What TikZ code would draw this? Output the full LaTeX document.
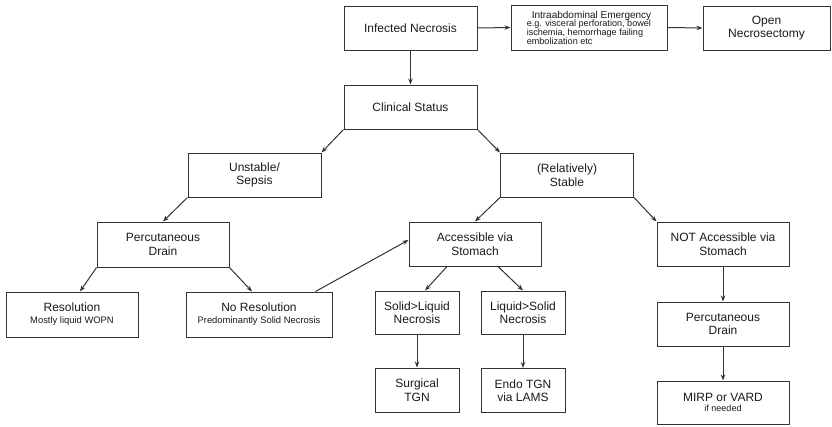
\documentclass[tikz,border=0pt]{standalone}
\usepackage{fontspec}
\setmainfont{Liberation Sans}
\usetikzlibrary{arrows.meta}
\newcommand\smtxt[1]{{\fontsize{9.4}{10}\selectfont #1}}
\begin{document}
\begin{tikzpicture}[x=1pt,y=-1pt,
 box/.style={draw=black!80, line width=1pt, align=center, font=\fontsize{12}{13.5}\selectfont, inner sep=2pt, text=black!90},
 wide/.style={minimum width=133pt, minimum height=44pt},
 narrow/.style={minimum width=84pt, minimum height=43pt},
 arr/.style={draw=black!80, line width=1pt, -{Stealth[length=6pt,width=4.5pt]}}]
\useasboundingbox (0,0) rectangle (832,426);
% row 1
\node[box, wide] (inf) at (410.5,28) {Infected Necrosis};
\node[box, minimum width=156pt, minimum height=45pt, inner sep=1pt, align=left, font=\fontsize{9.1}{8.7}\selectfont] (emerg) at (589,27.5)
 {{\fontsize{10}{11}\selectfont\hspace*{5pt}Intraabdominal Emergency}\\[0pt]
  e.g. visceral perforation, bowel\\ ischemia, hemorrhage failing\\ embolization etc};
\node[box, minimum width=127pt, minimum height=44pt] (open) at (766.5,28) {Open\\Necrosectomy};
% row 2
\node[box, wide] (clin) at (410.5,107) {Clinical Status};
% row 3
\node[box, wide] (unst) at (254.5,175) {Unstable/\\Sepsis};
\node[box, wide] (stab) at (567,175) {(Relatively)\\Stable};
% row 4
\node[box, minimum width=132pt, minimum height=45pt] (pdL) at (163,244.5) {Percutaneous\\Drain};
\node[box, minimum width=132pt, minimum height=44pt] (acc) at (475,244) {Accessible via\\Stomach};
\node[box, minimum width=132pt, minimum height=44pt] (nacc) at (723,244) {NOT Accessible via\\Stomach};
% row 5
\node[box, minimum width=132pt, minimum height=45pt] (res) at (72,314.5) {Resolution\\[-1.5pt]\smtxt{Mostly liquid WOPN}};
\node[box, minimum width=146pt, minimum height=45pt] (nres) at (259,314.5) {No Resolution\\[-1.5pt]\smtxt{Predominantly Solid Necrosis}};
\node[box, narrow] (sl) at (417,312.5) {Solid>Liquid\\Necrosis};
\node[box, narrow] (ls) at (523,312.5) {Liquid>Solid\\Necrosis};
\node[box, minimum width=132pt, minimum height=44pt] (pdR) at (723,324) {Percutaneous\\Drain};
% row 6
\node[box, narrow, minimum height=44pt] (surg) at (417,390) {Surgical\\TGN};
\node[box, narrow, minimum height=44pt] (endo) at (523,390.5) {Endo TGN\\via LAMS};
\node[box, minimum width=132pt, minimum height=43pt] (mirp) at (723,402.5) {MIRP or VARD\\[-3pt]{\fontsize{9}{10}\selectfont if needed}};
% connectors
\draw[arr] (inf.east) -- (emerg.west);
\draw[arr] (emerg.east) -- (open.west);
\draw[arr] (inf.south) -- (clin.north);
\draw[arr] (clin.south west) -- (unst.north east);
\draw[arr] (clin.south east) -- (stab.north west);
\draw[arr] (unst.south west) -- (pdL.north);
\draw[arr] (stab.south west) -- (acc.north);
\draw[arr] (stab.south east) -- (nacc.north west);
\draw[arr] (pdL.south west) -- ([xshift=8pt]res.north);
\draw[arr] (pdL.south east) -- ([xshift=-7pt]nres.north);
\draw[arr] ([xshift=-17pt]nres.north east) -- ([yshift=4pt]acc.west);
\draw[arr] ([xshift=-28pt]acc.south) -- ([xshift=8pt]sl.north);
\draw[arr] ([xshift=23pt]acc.south) -- (ls.north);
\draw[arr] (sl.south) -- (surg.north);
\draw[arr] (ls.south) -- (endo.north);
\draw[arr] (nacc.south) -- (pdR.north);
\draw[arr] (pdR.south) -- (mirp.north);
\end{tikzpicture}
\end{document}
